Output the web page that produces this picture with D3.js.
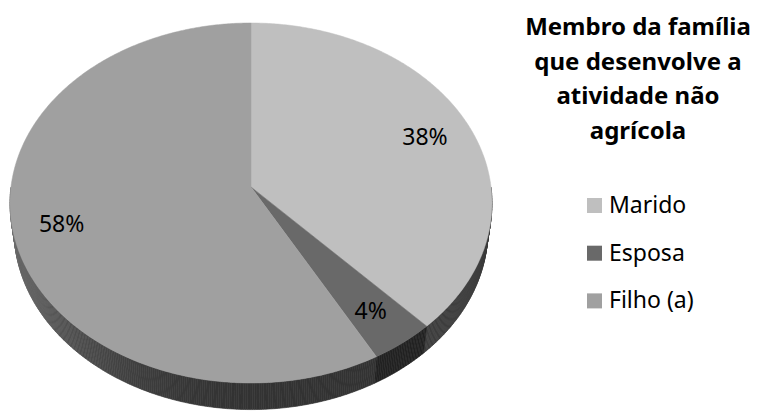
<!DOCTYPE html>
<html>
<head>
<meta charset="utf-8">
<script src="https://cdn.jsdelivr.net/npm/d3@7"></script>
<style>
  html, body { margin: 0; padding: 0; background: #fff; }
  svg { display: block; }
  text { font-family: "Noto Sans", "Open Sans", sans-serif; fill: #000; }
</style>
</head>
<body>
<svg id="chart" width="759" height="414"></svg>
<script>
// Data
const categories = ["Marido", "Esposa", "Filho (a)"];
const values = [38, 4, 58];
const percentLabels = ["38%", "4%", "58%"];
const titleLines = ["Membro da família", "que desenvolve a", "atividade não", "agrícola"];
const topColors = ["#bfbfbf", "#696969", "#a0a0a0"];

const svg = d3.select("#chart");

// Perspective view of a flat disc (radius 1, thickness T) tilted towards the viewer
const view = { cx: 251, cy: 187, sinA: 0.744, D: 7.52, F: 1805, T: 0.175 };
view.cosA = Math.sqrt(1 - view.sinA * view.sinA);

// theta: clockwise from 12 o'clock; r: radius fraction; h: 0 = top face, 1 = bottom
function project(theta, r, h) {
  const X = r * Math.sin(theta);
  const Z = -r * Math.cos(theta);
  const depth = view.D + h * view.T * view.sinA - Z * view.cosA;
  const ys = Z * view.sinA + h * view.T * view.cosA;
  return [view.cx + view.F * X / depth, view.cy + view.F * ys / depth];
}

const pie = d3.pie().sort(null).value(d => d);
const arcs = pie(values);

const color = d3.scaleOrdinal().domain(categories).range(topColors);

// Side shading: brighter towards the left, darker towards the front/right
function sideColor(base, theta) {
  const nx = Math.sin(theta);
  const lit = Math.max(0, -nx);
  const f = 0.32 + 0.36 * lit * lit;
  const c = d3.rgb(base);
  return d3.rgb(c.r * f, c.g * f, c.b * f).formatHex();
}

const line = d3.line();
const step = Math.PI / 360;

// Side walls (front half only)
const sideG = svg.append("g");
arcs.forEach((a, i) => {
  const s = Math.max(a.startAngle, Math.PI / 2);
  const e = Math.min(a.endAngle, 3 * Math.PI / 2);
  if (e <= s) return;
  const base = color(categories[i]);
  for (let t = s; t < e - 1e-9; t += step) {
    const t2 = Math.min(t + step, e);
    const pts = [project(t, 1, 0), project(t2, 1, 0), project(t2, 1, 1), project(t, 1, 1)];
    const col = sideColor(base, (t + t2) / 2);
    sideG.append("path")
      .attr("d", line(pts) + "Z")
      .attr("fill", col)
      .attr("stroke", col)
      .attr("stroke-width", 0.6);
  }
});

// Top faces
const topG = svg.append("g");
arcs.forEach((a, i) => {
  const pts = [project(0, 0, 0)];
  const n = Math.max(2, Math.ceil((a.endAngle - a.startAngle) / step));
  for (let k = 0; k <= n; k++) {
    const t = a.startAngle + (a.endAngle - a.startAngle) * k / n;
    pts.push(project(t, 1, 0));
  }
  const col = color(categories[i]);
  topG.append("path")
    .attr("d", line(pts) + "Z")
    .attr("fill", col)
    .attr("stroke", col)
    .attr("stroke-width", 0.5);
});

// Percent labels
const labelG = svg.append("g");
arcs.forEach((a, i) => {
  const mid = (a.startAngle + a.endAngle) / 2;
  const [x, y] = project(mid, 0.8, 0);
  labelG.append("text")
    .attr("x", x)
    .attr("y", y)
    .attr("text-anchor", "middle")
    .attr("dominant-baseline", "central")
    .style("font-size", "23px")
    .text(percentLabels[i]);
});

// Title
const titleG = svg.append("g");
titleLines.forEach((t, i) => {
  titleG.append("text")
    .attr("x", 638)
    .attr("y", 35 + i * 34.5)
    .attr("text-anchor", "middle")
    .style("font-size", "24px")
    .style("font-weight", "bold")
    .text(t);
});

// Legend
const legend = svg.append("g");
categories.forEach((c, i) => {
  const y = 213 + i * 47.7;
  legend.append("rect")
    .attr("x", 587).attr("y", y - 15)
    .attr("width", 15).attr("height", 15)
    .attr("fill", color(c));
  legend.append("text")
    .attr("x", 609).attr("y", y)
    .style("font-size", "23px")
    .text(c);
});
</script>
</body>
</html>
